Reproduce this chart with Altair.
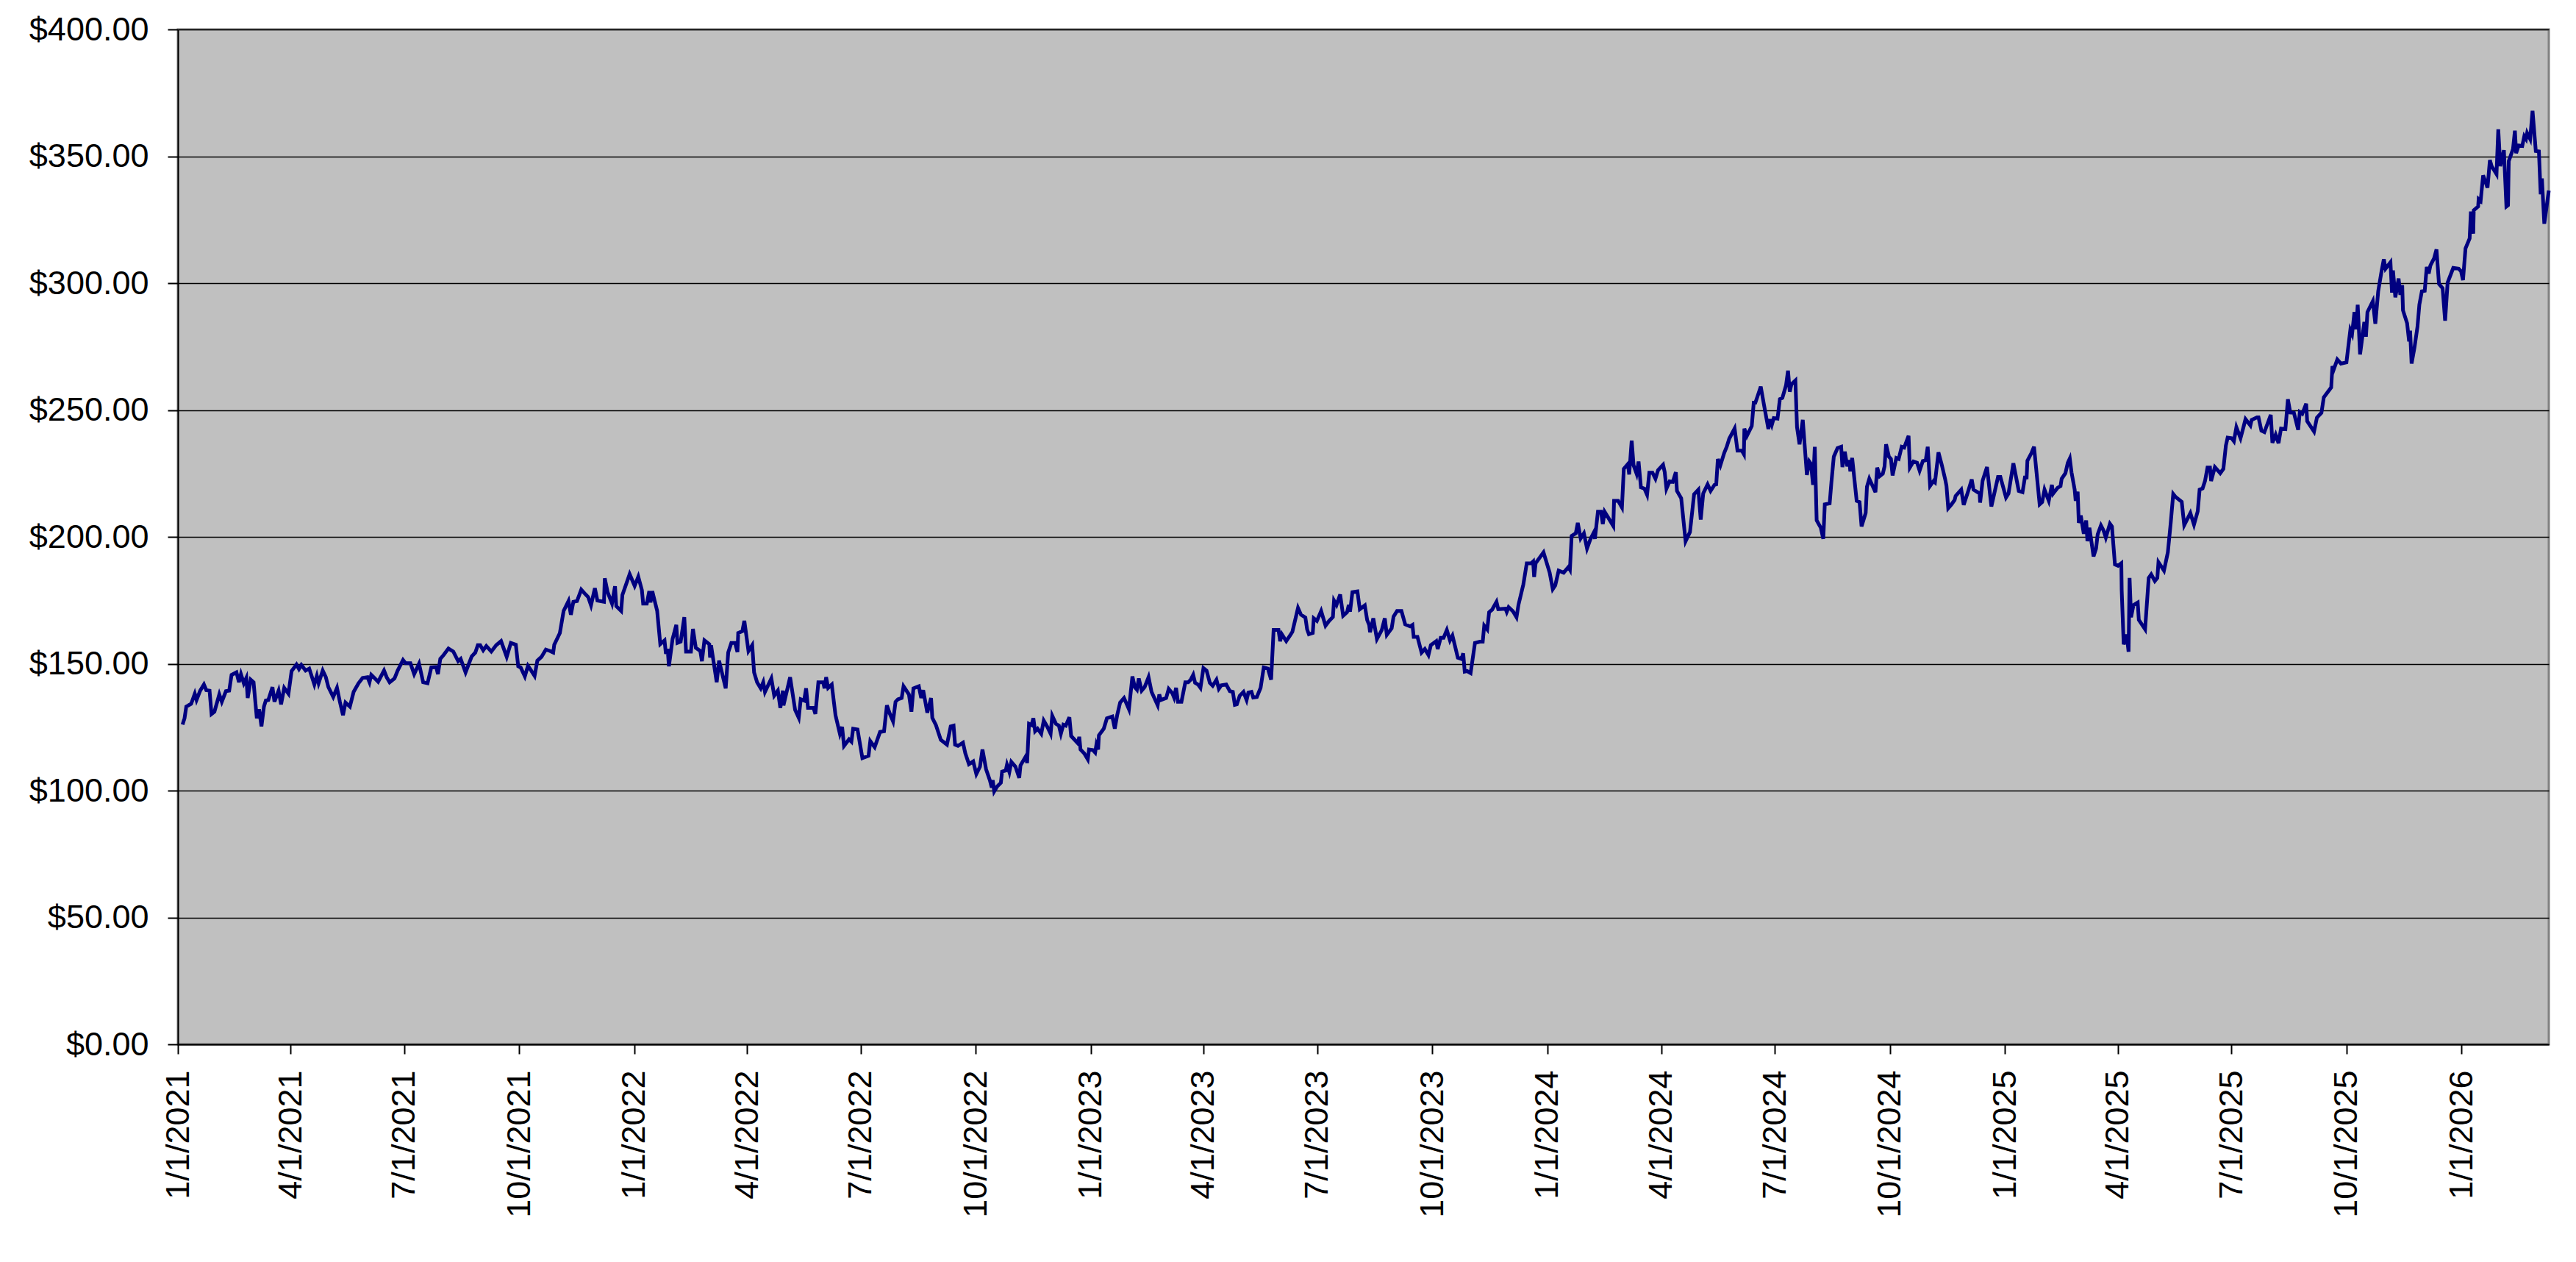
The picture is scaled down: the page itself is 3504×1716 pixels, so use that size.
import altair as alt
import pandas as pd

# Days since 1/1/2021 and closing price (segment by segment)
days_2021a = [3.7, 5.3, 6.7, 10.6, 13.5, 14.9, 17.8, 20.8, 22.7, 25.3, 26.9, 29.2, 33.1, 35.1, 38.4, 41.0,
              42.9, 46.8, 48.8, 50.4, 52.7, 54.7, 55.8, 58.2, 60.5, 63.1, 64.9, 66.8, 68.8, 70.3, 72.3, 75.6,
              77.2, 80.5, 82.5, 85.0, 88.4, 90.9, 94.8, 96.8, 98.7, 102.1, 105.0, 109.1, 111.1, 112.5, 115.8,
              118.3, 120.3, 124.2, 127.2, 129.5, 132.0, 134.0, 137.5, 140.5, 144.4, 147.7, 151.6, 153.2, 154.6,
              157.5, 160.1, 164.8, 166.9, 169.3, 173.2, 175.7, 180.0, 182.0, 185.9, 188.9, 192.8, 196.1, 199.6,
              202.6, 206.5, 207.9, 209.8, 212.4]
price_2021a = [126.0, 128.5, 133.1, 134.2, 138.2, 135.7, 139.4, 141.8, 139.6, 139.4, 130.2, 131.1, 137.9, 135.0, 139.2, 139.4,
               145.6, 146.6, 142.7, 145.9, 142.3, 144.4, 136.5, 143.7, 142.7, 128.5, 132.1, 125.3, 133.1, 135.5, 135.7, 140.8,
               135.0, 139.4, 134.0, 140.5, 138.2, 147.1, 149.7, 147.9, 149.5, 147.3, 148.1, 141.8, 145.2, 142.3, 147.3,
               144.7, 140.8, 136.9, 140.5, 135.0, 129.7, 134.7, 133.1, 138.9, 142.3, 144.4, 144.7, 142.7, 145.6,
               144.2, 142.9, 147.3, 144.7, 142.7, 144.2, 147.3, 151.5, 150.2, 150.2, 145.9, 150.0, 142.7, 142.3,
               148.5, 148.7, 145.9, 151.9, 153.4]

days_2021b = [216.3, 220.2, 224.1, 226.1, 230.0, 234.9, 237.8, 239.8, 241.7, 244.1, 246.6, 250.6, 254.5, 258.4, 262.9,
              266.2, 270.2, 272.1, 274.1, 277.4, 279.9, 282.5, 285.2, 287.4, 290.7, 294.2, 297.6, 300.1, 300.9, 305.4,
              308.4, 312.3, 314.2, 316.2, 319.1, 322.5, 326.0, 328.0, 330.3, 333.4, 335.4, 340.7, 341.3, 343.6, 347.1,
              349.5, 350.5, 354.4, 355.4, 361.2, 365.2, 368.1, 371.0, 372.0, 374.9, 376.9, 377.9, 379.3, 383.2, 385.7,
              389.1, 390.2, 391.6, 392.6, 395.5, 398.5, 399.4, 402.0, 404.9, 406.3, 410.2, 411.8, 414.1, 417.7, 419.0,
              421.0]
price_2021b = [156.0, 154.8, 151.0, 151.9, 146.6, 152.9, 154.4, 157.3, 157.3, 155.3, 157.0, 154.8, 157.3, 158.9, 152.7,
               158.2, 157.5, 149.0, 148.5, 145.0, 149.2, 147.3, 145.2, 151.2, 152.7, 155.6, 155.0, 154.4, 157.5, 162.1,
               170.8, 174.7, 169.3, 174.4, 174.7, 179.2, 177.3, 176.3, 173.0, 179.8, 174.9, 174.4, 183.7, 178.2, 173.7,
               180.5, 172.7, 170.8, 177.1, 185.3, 180.7, 184.3, 179.0, 173.7, 173.7, 178.6, 174.2, 178.6, 170.8, 157.7,
               159.2, 153.9, 155.8, 149.0, 159.7, 165.3, 158.2, 158.7, 168.4, 154.8, 154.8, 163.7, 156.3, 155.0, 151.0,
               159.2]

days_2022a = [424.9, 425.5, 426.3, 430.8, 432.7, 438.0, 440.0, 442.5, 445.5, 447.4, 448.0, 451.3, 452.9, 456.2, 459.2,
              460.7, 463.1, 466.0, 468.0, 469.4, 474.5, 476.8, 479.7, 481.7, 483.7, 484.2, 489.5, 493.5, 496.4, 498.0,
              500.7, 502.3, 503.8, 508.2, 509.7, 512.1, 516.0, 517.0, 518.3, 519.9, 522.8, 525.8, 529.3, 531.1, 532.6,
              536.6, 538.5, 539.9, 543.4, 547.3, 552.2, 553.6, 557.1, 561.4, 564.6, 566.9, 569.3, 571.8, 573.8, 575.7,
              578.7, 580.2, 584.5, 586.5, 588.1, 592.4, 594.3, 595.9, 599.2, 602.2, 603.2, 606.1, 610.0, 614.9, 617.9,
              620.2, 621.4, 623.7, 627.7, 629.6, 632.5]
price_2022a = [157.7, 152.4, 157.3, 142.7, 151.2, 140.3, 154.4, 158.2, 158.2, 154.6, 162.1, 162.8, 166.9, 155.0, 157.3,
               146.6, 142.7, 140.3, 142.7, 138.9, 144.2, 137.4, 139.4, 132.6, 139.4, 133.6, 144.7, 131.8, 128.7, 136.0,
               135.5, 140.3, 132.6, 132.6, 130.2, 142.7, 142.7, 140.3, 144.7, 140.5, 141.8, 129.7, 122.4, 125.1, 117.6,
               120.2, 119.3, 124.4, 124.1, 112.8, 113.7, 119.5, 117.1, 123.1, 123.4, 133.6, 130.2, 127.3, 135.0, 136.0,
               136.5, 141.1, 137.9, 131.1, 140.3, 141.1, 136.5, 139.6, 130.7, 136.5, 128.7, 125.8, 120.0, 118.1, 125.3,
               125.6, 118.1, 117.6, 118.9, 114.7, 110.4]

days_2022b = [635.9, 638.4, 641.3, 643.3, 646.2, 649.2, 650.7, 651.5, 652.7, 655.0, 658.0, 659.0, 661.9, 662.9, 664.8,
              666.4, 669.7, 672.7, 673.7, 678.2, 679.0, 680.5, 682.5, 684.0, 685.4, 687.4, 690.3, 692.3, 695.2, 697.8,
              699.1, 702.1, 704.4, 706.0, 708.0, 709.9, 712.8, 714.2, 719.7, 720.7, 721.7, 724.6, 727.5, 728.5, 731.5,
              733.4, 734.4, 735.8, 736.4, 740.3, 742.8, 747.1, 749.1, 751.0, 753.4, 756.5, 760.4, 763.2, 765.1, 766.8,
              768.3, 770.6, 773.0, 776.1, 778.5, 783.4, 784.7, 785.9, 790.2, 792.2, 795.1, 796.5, 798.1, 799.6, 802.4,
              805.5, 807.8, 809.8, 811.8, 813.3, 815.7, 817.6, 820.0, 822.5, 825.1, 827.4, 830.4, 832.3, 834.3, 838.2,
              841.1, 843.5, 845.1]
price_2022b = [111.5, 106.5, 109.4, 116.2, 108.4, 104.1, 101.2, 104.1, 99.7, 101.6, 103.1, 107.5, 107.9, 110.2, 107.3,
               111.3, 109.4, 105.0, 109.9, 113.7, 110.8, 126.3, 125.8, 128.5, 123.4, 124.4, 122.4, 127.6, 125.1, 122.4,
               129.5, 126.3, 125.6, 122.4, 126.0, 125.6, 128.9, 121.5, 118.6, 121.2, 116.2, 114.7, 112.3, 116.2, 116.0,
               115.0, 118.1, 116.2, 121.8, 124.4, 128.5, 129.2, 124.4, 129.7, 134.7, 136.5, 132.1, 145.0, 140.8, 139.8,
               144.2, 139.4, 140.8, 144.7, 138.9, 133.6, 137.9, 135.7, 136.5, 140.1, 138.4, 136.7, 140.5, 135.0, 135.0,
               142.7, 142.7, 143.7, 145.6, 142.5, 141.8, 140.5, 148.3, 147.3, 142.5, 141.3, 143.7, 140.1, 141.5, 141.8,
               139.2, 138.9, 133.8]

days_2023 = [846.7, 849.0, 852.0, 854.5, 855.9, 858.4, 859.8, 862.7, 865.7, 868.2, 871.5, 874.1, 876.1, 880.0, 881.3,
             882.7, 886.2, 889.2, 891.1, 895.6, 898.0, 901.5, 902.9, 904.3, 907.4, 908.2, 910.7, 914.1, 917.6, 920.5,
             923.5, 924.4, 926.4, 929.3, 931.7, 934.8, 936.2, 937.2, 939.1, 943.1, 945.0, 949.0, 950.9, 952.5, 953.2,
             955.8, 958.7, 962.6, 965.0, 966.6, 970.5, 972.0, 974.8, 978.3, 981.3, 985.2, 987.1, 988.1, 991.1, 994.4,
             997.0, 999.9, 1001.8, 1006.1, 1007.3, 1009.7, 1012.0, 1014.6, 1017.1, 1019.1, 1023.4, 1026.3, 1027.7,
             1028.9, 1030.8, 1033.6, 1037.1, 1041.0, 1043.3, 1044.5, 1046.9, 1048.4, 1050.8, 1054.3, 1055.7]
price_2023 = [134.0, 137.4, 138.9, 135.7, 138.6, 138.9, 136.7, 136.9, 140.5, 148.5, 148.1, 143.7, 163.3, 163.3, 158.9,
              161.6, 158.9, 161.1, 162.6, 172.0, 169.3, 168.2, 163.5, 161.6, 162.1, 167.9, 166.9, 170.8, 165.0, 166.9,
              168.4, 174.9, 173.2, 177.3, 168.9, 170.3, 173.2, 170.5, 178.2, 178.5, 171.5, 173.0, 167.2, 165.3, 162.4,
              167.9, 159.7, 163.3, 167.9, 161.4, 164.0, 168.6, 170.8, 170.8, 165.5, 164.7, 165.3, 160.6, 160.6, 154.4,
              155.8, 153.4, 157.3, 158.9, 155.8, 160.2, 160.2, 163.3, 159.2, 161.1, 152.4, 151.9, 154.1,
              146.9, 147.1, 146.3, 158.2, 158.7, 158.7, 165.0, 163.5, 170.3, 171.3, 174.4, 171.5]

days_2024a = [1061.5, 1062.5, 1064.0, 1067.4, 1070.3, 1071.9, 1075.8, 1078.5, 1082.1, 1083.6, 1084.4, 1085.6, 1091.9,
              1096.8, 1099.3, 1101.3, 1104.0, 1108.0, 1111.8, 1113.0, 1114.4, 1117.7, 1119.3, 1121.6, 1124.2, 1126.7,
              1129.5, 1132.0, 1133.0, 1135.4, 1137.9, 1139.3, 1140.8, 1147.7, 1148.3, 1151.6, 1154.6, 1156.1, 1159.4,
              1160.4, 1162.4, 1163.9, 1166.3, 1167.9, 1169.8, 1172.6, 1174.7, 1176.5, 1179.0, 1181.4, 1183.5, 1187.5,
              1188.8, 1190.2, 1192.7, 1195.3, 1197.7, 1198.6, 1202.0, 1205.5, 1209.0, 1212.3, 1215.7, 1217.6, 1219.6,
              1223.1, 1225.5, 1228.6, 1230.0, 1231.3, 1233.3, 1236.4, 1238.4, 1240.4, 1244.7, 1247.0, 1250.5, 1252.1,
              1252.5, 1254.5, 1258.4, 1260.0, 1261.3, 1263.3, 1265.6, 1268.2]
price_2024a = [171.7, 170.4, 172.3, 170.7, 168.3, 173.3, 181.3, 189.6, 189.6, 190.3, 184.2, 189.6, 193.9,
               185.9, 179.4, 180.9, 186.7, 185.9, 188.1, 187.1, 200.4, 201.4, 205.5, 199.4, 201.4, 195.4,
               199.2, 201.6, 199.2, 209.9, 209.9, 205.0, 209.9, 204.3, 214.2, 214.2, 211.6, 226.8, 228.7,
               224.6, 237.9, 228.2, 224.9, 229.7, 219.5, 219.0, 216.6, 225.3, 225.3, 222.9, 226.3, 228.4,
               225.5, 219.0, 221.9, 221.7, 225.5, 218.1, 215.2, 198.3, 201.9, 216.8, 218.6, 206.8, 217.1,
               220.7, 218.1, 220.5, 220.7, 230.7, 228.2, 233.1, 235.5, 238.7, 242.7, 234.0, 234.0, 232.6,
               242.7, 239.8, 243.7, 252.9, 252.9, 255.8, 259.2, 252.0]

days_2024b = [1271.7, 1273.1, 1274.5, 1276.0, 1279.0, 1280.9, 1282.9, 1285.8, 1287.4, 1288.8, 1290.1, 1293.3, 1294.6,
              1296.6, 1299.2, 1302.5, 1304.4, 1305.8, 1307.4, 1308.8, 1310.3, 1313.6, 1315.6, 1316.8, 1320.7, 1322.1,
              1324.0, 1327.0, 1329.9, 1330.9, 1332.8, 1334.8, 1336.4, 1337.2, 1338.7, 1342.3, 1344.6, 1346.2, 1349.5,
              1350.5, 1352.4, 1357.3, 1358.7, 1360.7, 1363.2, 1364.6, 1365.8, 1368.1, 1369.7, 1371.0, 1374.0, 1375.9,
              1378.3, 1380.3, 1383.8, 1384.8, 1387.7, 1390.6, 1392.6, 1395.2, 1397.5, 1399.1, 1401.0, 1403.8, 1404.9,
              1407.7, 1410.2, 1413.2, 1414.1, 1415.5, 1418.1, 1420.6, 1421.4, 1425.9, 1427.9, 1431.2, 1434.3, 1435.7,
              1440.6, 1441.0, 1443.0, 1446.5, 1450.0, 1455.3, 1457.2, 1461.7, 1463.7, 1467.6, 1471.9, 1474.9, 1476.8,
              1478.2, 1478.8, 1482.1]
price_2024b = [242.5, 246.4, 244.2, 246.8, 246.6, 254.3, 254.8, 259.7, 265.5, 257.2, 260.1, 261.6, 243.2,
               236.5, 246.1, 224.4, 229.7, 228.7, 220.5, 235.5, 206.5, 203.6, 199.2, 212.8, 213.2, 221.5,
               231.6, 235.0, 235.5, 227.5, 233.6, 227.8, 230.2, 225.8, 231.1, 214.2, 213.7, 204.1, 209.4,
               219.7, 222.9, 217.6, 227.3, 223.9, 224.9, 227.8, 236.5, 231.6, 230.7, 224.2, 231.1, 230.7,
               235.5, 235.2, 239.8, 227.3, 229.7, 229.2, 226.1, 229.9, 230.2, 235.5, 220.1, 222.0, 221.5,
               233.3, 228.7, 222.4, 220.1, 211.3, 212.8, 214.5, 216.1, 218.6, 212.6, 217.6, 222.6, 218.6,
               217.1, 213.5, 222.2, 227.5, 212.0, 223.6, 223.6, 215.5, 217.1, 229.0, 218.1, 217.6, 223.4,
               223.4, 230.0, 233.1]

days_2025a = [1484.1, 1488.6, 1490.6, 1492.5, 1495.9, 1498.4, 1499.4, 1502.9, 1505.3, 1506.2, 1509.2, 1511.1, 1512.7,
              1514.1, 1516.6, 1517.4, 1519.0, 1519.9, 1521.5, 1523.9, 1525.8, 1526.8, 1528.4, 1531.7, 1533.7, 1535.0,
              1537.6, 1539.6, 1541.5, 1544.8, 1546.4, 1548.8, 1551.3, 1553.9, 1554.2, 1555.8, 1558.2, 1559.7, 1560.5,
              1561.7, 1563.6, 1567.0, 1567.9, 1572.9, 1575.8, 1577.8, 1580.7, 1582.7, 1583.6, 1588.0, 1591.1, 1593.4,
              1595.4, 1597.3, 1602.2, 1604.2, 1609.1, 1612.0, 1615.0, 1616.5, 1618.9, 1620.8, 1622.8, 1624.8, 1625.7,
              1628.7, 1633.0, 1635.5, 1637.5, 1638.9, 1642.0, 1643.9, 1645.9, 1649.2, 1651.8, 1653.2, 1657.1, 1658.1,
              1662.4, 1663.6, 1665.9, 1668.3, 1673.4, 1674.7, 1677.3, 1679.6, 1681.6, 1685.1, 1687.1, 1689.0]
price_2025a = [235.5, 212.8, 213.7, 218.6, 214.2, 220.5, 217.1, 219.3, 220.0, 222.9, 225.1, 229.2, 230.9,
               225.4, 218.6, 214.2, 217.8, 205.5, 208.4, 201.2, 206.5, 198.3, 203.6, 192.3, 195.4, 201.0,
               204.5, 202.6, 199.7, 205.2, 204.1, 189.1, 188.6, 189.6, 178.9, 157.6, 161.5, 154.7, 183.8,
               168.3, 173.1, 174.1, 167.3, 163.6, 183.8, 185.2, 182.6, 183.8, 190.0, 186.7, 193.9, 205.5,
               216.9, 215.7, 213.8, 204.6, 209.4, 204.8, 210.1, 218.6, 219.1, 222.0, 227.3, 227.3, 222.0,
               227.5, 225.1, 226.8, 236.0, 239.1, 238.9, 237.7, 243.2, 238.9, 243.7, 246.4, 243.9, 246.1,
               247.1, 247.1, 241.9, 241.3, 248.1, 237.1, 240.3, 236.9, 242.7, 242.5, 254.2, 249.0]

days_2025b = [1691.9, 1695.3, 1696.6, 1698.6, 1701.7, 1702.5, 1708.0, 1710.3, 1713.9, 1715.8, 1721.7, 1722.7, 1723.7,
              1726.6, 1729.5, 1733.9, 1737.0, 1738.4, 1740.3, 1741.7, 1742.9, 1744.8, 1748.2, 1749.5, 1750.7, 1755.0,
              1757.0, 1759.3, 1761.9, 1763.8, 1765.2, 1769.1, 1770.3, 1771.1, 1773.0, 1775.6, 1777.0, 1778.5, 1779.1,
              1782.4, 1784.0, 1784.8, 1786.0, 1788.3, 1790.7, 1792.2, 1794.2, 1796.5, 1798.1, 1799.7, 1801.0, 1804.0,
              1805.9, 1807.9, 1810.8, 1812.8, 1814.8, 1819.3, 1823.6, 1825.5, 1827.1, 1829.1, 1832.4, 1833.4, 1835.3,
              1835.7, 1839.2, 1839.6, 1841.2, 1843.2, 1846.7, 1848.6, 1850.0, 1853.9, 1855.3, 1856.9, 1859.8, 1861.8,
              1863.1, 1863.7, 1867.1, 1868.6, 1869.6, 1871.6, 1874.5, 1876.1, 1877.5, 1878.4, 1880.8, 1882.7, 1885.3,
              1887.8, 1889.2, 1890.2, 1892.1, 1895.7]
price_2025b = [248.9, 242.2, 249.2, 248.5, 252.5, 245.6, 241.5, 247.0, 248.9, 255.0, 258.9, 267.3, 265.9,
               269.9, 268.3, 268.8, 281.5, 279.9, 288.6, 281.8, 291.5, 271.9, 284.7, 278.9, 288.6, 292.9,
               284.0, 296.8, 304.5, 309.4, 305.7, 308.2, 296.3, 305.0, 294.4, 301.8, 295.4, 299.2, 289.3,
               284.2, 277.0, 281.3, 268.3, 274.6, 282.8, 291.5, 296.8, 297.0, 306.4, 303.8, 306.9, 309.8,
               313.3, 299.7, 298.0, 285.2, 300.2, 306.0, 305.7, 304.7, 301.2, 313.7, 317.6, 328.2, 319.5,
               328.7, 330.2, 333.1, 332.4, 342.5, 337.6, 348.5, 346.1, 343.0, 360.6, 346.1, 352.4, 330.2,
               330.7, 348.1, 352.9, 360.1, 351.2, 354.3, 354.1, 357.9, 356.8, 359.2, 356.8, 367.9, 352.1,
               351.9, 335.0, 341.3, 323.4, 336.5]

# Axis ticks
x_tick_dates = ["2021-01-01", "2021-04-01", "2021-07-01", "2021-10-01",
                "2022-01-01", "2022-04-01", "2022-07-01", "2022-10-01",
                "2023-01-01", "2023-04-01", "2023-07-01", "2023-10-01",
                "2024-01-01", "2024-04-01", "2024-07-01", "2024-10-01",
                "2025-01-01", "2025-04-01", "2025-07-01", "2025-10-01",
                "2026-01-01"]
y_ticks = [0, 50, 100, 150, 200, 250, 300, 350, 400]

all_days = (days_2021a + days_2021b + days_2022a + days_2022b + days_2023 +
            days_2024a + days_2024b + days_2025a + days_2025b)
all_prices = (price_2021a + price_2021b + price_2022a + price_2022b + price_2023 +
              price_2024a + price_2024b + price_2025a + price_2025b)
assert len(all_days) == len(all_prices), (len(all_days), len(all_prices))

start = pd.Timestamp("2021-01-01")
df = pd.DataFrame({
    "date": start + pd.to_timedelta(all_days, unit="D"),
    "price": all_prices,
})


def to_dt(s):
    t = pd.Timestamp(s)
    return alt.DateTime(year=t.year, month=t.month, date=t.day)


FONT = "Liberation Sans"

chart = alt.Chart(df).mark_line(color="#000080", strokeWidth=5, strokeJoin="miter").encode(
    x=alt.X(
        "date:T",
        scale=alt.Scale(domainMin=to_dt(x_tick_dates[0]), nice=False),
        axis=alt.Axis(
            values=[to_dt(s) for s in x_tick_dates],
            format="%-m/%-d/%Y",
            labelAngle=270,
            labelFont=FONT,
            labelFontSize=45,
            labelColor="#000000",
            labelPadding=22,
            labelFlush=False,
            labelOverlap=False,
            labelLimit=600,
            tickSize=13,
            tickColor="#000000",
            tickWidth=2,
            domainColor="#000000",
            domainWidth=2,
            grid=False,
            title=None,
        ),
    ),
    y=alt.Y(
        "price:Q",
        scale=alt.Scale(domain=[0, 400], nice=False),
        axis=alt.Axis(
            values=y_ticks,
            format="$.2f",
            labelFont=FONT,
            labelFontSize=45,
            labelColor="#000000",
            labelPadding=26,
            labelLimit=600,
            tickSize=14,
            tickColor="#000000",
            tickWidth=2,
            domainColor="#000000",
            domainWidth=2,
            grid=True,
            gridColor="#000000",
            gridWidth=1.5,
            title=None,
        ),
    ),
).properties(
    width=3225,
    height=1380,
    padding={"left": 234, "top": 32, "right": 20, "bottom": 270},
    autosize=alt.AutoSizeParams(type="none"),
    background="#ffffff",
).configure_view(
    fill="#C0C0C0",
    stroke="#808080",
    strokeWidth=3,
)

chart.save("out.html", embed_options={"renderer": "svg", "actions": False})
